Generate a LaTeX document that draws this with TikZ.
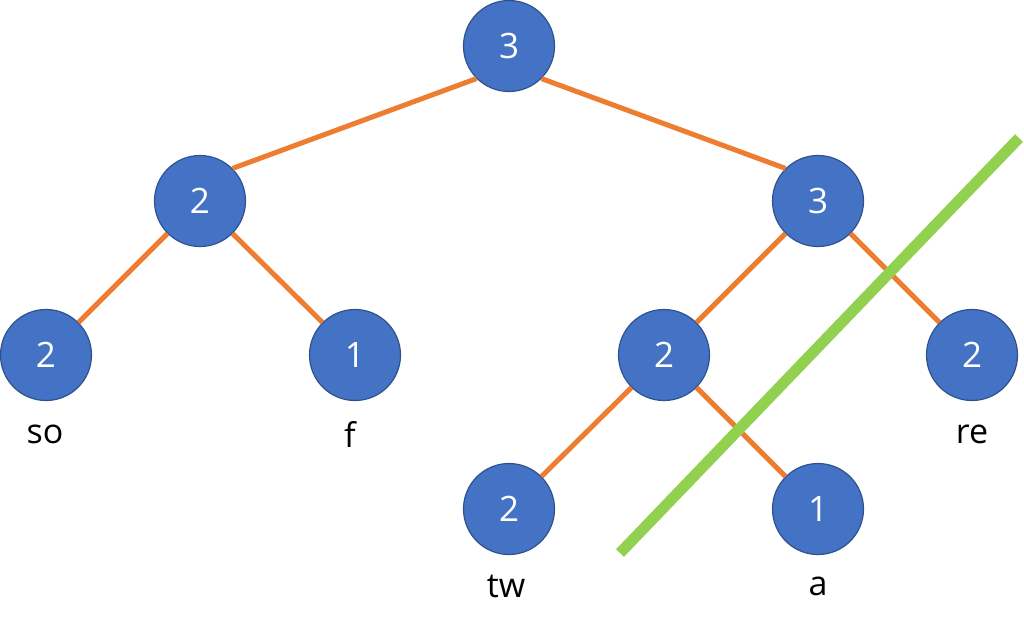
\documentclass[tikz,border=0pt]{standalone}
\usepackage{fontspec}
\setmainfont{Open Sans}
\definecolor{nodeblue}{HTML}{4472C4}
\definecolor{nodeedge}{HTML}{2F528F}
\definecolor{edgeorange}{HTML}{ED7D31}
\definecolor{cutgreen}{HTML}{92D050}
\begin{document}
\begin{tikzpicture}[x=1pt,y=-1pt,
  tnode/.style={circle,fill=nodeblue,draw=nodeedge,line width=1.2pt,minimum size=91pt,inner sep=0pt,text=white,font=\fontsize{35}{40}\selectfont},
  lbl/.style={font=\fontsize{34}{40}\selectfont,text=black,inner sep=0pt},
  tedge/.style={draw=edgeorange,line width=5pt}]
\useasboundingbox (0,0) rectangle (1024,630);
\node[tnode] (r) at (509,46) {3};
\node[tnode] (a) at (200,201) {2};
\node[tnode] (b) at (818,201) {3};
\node[tnode] (aa) at (46,355) {2};
\node[tnode] (ab) at (355,355) {1};
\node[tnode] (ba) at (664,355) {2};
\node[tnode] (bb) at (972,355) {2};
\node[tnode] (baa) at (509,509) {2};
\node[tnode] (bab) at (818,509) {1};
\node[lbl] (lso) at (45,434) {so};
\node[lbl] (lf) at (350,434) {f};
\node[lbl] (lre) at (972,434) {re};
\node[lbl] (ltw) at (506,586) {tw};
\node[lbl] (la) at (818,586) {a};
\draw[tedge] (r.225) -- (a.45);
\draw[tedge] (r.-45) -- (b.135);
\draw[tedge] (a.225) -- (aa.45);
\draw[tedge] (a.-45) -- (ab.135);
\draw[tedge] (b.225) -- (ba.45);
\draw[tedge] (b.-45) -- (bb.135);
\draw[tedge] (ba.225) -- (baa.45);
\draw[tedge] (ba.-45) -- (bab.135);
\coordinate (g1) at (620,553);
\coordinate (g2) at (1019,138);
\draw[cutgreen,line width=11pt] (g1) -- (g2);
\end{tikzpicture}
\end{document}
